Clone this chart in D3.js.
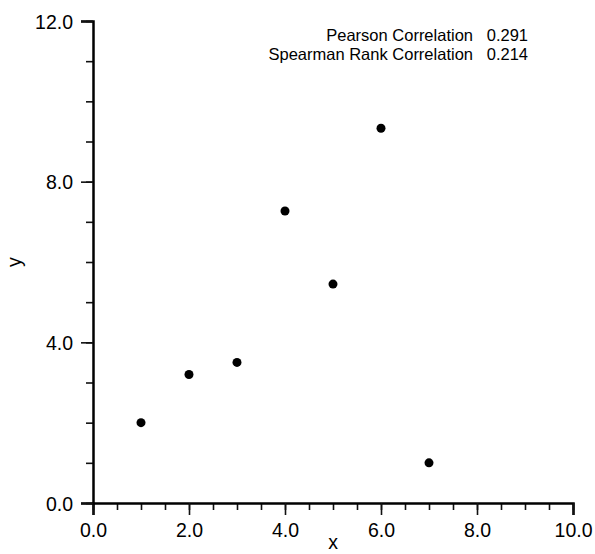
<!DOCTYPE html>
<html>
<head>
<meta charset="utf-8">
<script src="https://cdn.jsdelivr.net/npm/d3@7"></script>
<style>
  body { margin: 0; background: #fff; }
  svg { display: block; font-family: "Liberation Sans", Arial, Helvetica, sans-serif; }
</style>
</head>
<body>
<div id="chart"></div>
<script>
// Dades llegides del gràfic
const xValues = [1, 2, 3, 4, 5, 6, 7];
const yValues = [2.0, 3.2, 3.5, 7.27, 5.45, 9.33, 1.0];
const xTicks = [0, 2, 4, 6, 8, 10];
const yTicks = [0, 4, 8, 12];
const statLabels = ['Pearson Correlation', 'Spearman Rank Correlation'];
const statValues = ['0.291', '0.214'];

const width = 595, height = 554;
const margin = { top: 21, right: 22, bottom: 51, left: 93 };
const innerW = width - margin.left - margin.right;
const innerH = height - margin.top - margin.bottom;

const svg = d3.select('#chart').append('svg')
    .attr('width', width)
    .attr('height', height);

const g = svg.append('g')
    .attr('transform', `translate(${margin.left},${margin.top})`);

// Escales
const x = d3.scaleLinear().domain([0, 10]).range([0, innerW]);
const y = d3.scaleLinear().domain([0, 12]).range([innerH, 0]);

// Eix X: ticks menors cada 0.5
const xMinor = g.append('g')
    .attr('transform', `translate(0,${innerH})`)
    .call(d3.axisBottom(x).tickValues(d3.range(0, 10.01, 0.5)).tickSize(7).tickFormat(''));
xMinor.select('.domain').remove();

const xAxis = g.append('g')
    .attr('transform', `translate(0,${innerH})`)
    .call(d3.axisBottom(x).tickValues(xTicks).tickSize(12).tickPadding(8).tickFormat(d3.format('.1f')));

// Eix Y: ticks menors cada 1
const yMinor = g.append('g')
    .call(d3.axisLeft(y).tickValues(d3.range(0, 12.01, 1)).tickSize(7).tickFormat(''));
yMinor.select('.domain').remove();

const yAxis = g.append('g')
    .call(d3.axisLeft(y).tickValues(yTicks).tickSize(12).tickPadding(8).tickFormat(d3.format('.1f')));

[xAxis, yAxis].forEach(ax => {
    ax.select('.domain').attr('stroke', '#000').attr('stroke-width', 2.5);
    ax.selectAll('.tick text').attr('font-size', 19.5).attr('fill', '#000').style('font-family', 'inherit');
});
svg.selectAll('.tick line').attr('stroke', '#111').attr('stroke-width', 1.6);
yAxis.selectAll('.tick text').attr('dy', '0.36em');

// Títols dels eixos
g.append('text')
    .attr('x', innerW / 2)
    .attr('y', innerH + 46)
    .attr('text-anchor', 'middle')
    .attr('font-size', 19.5)
    .text('x');

g.append('text')
    .attr('transform', 'rotate(-90)')
    .attr('x', -innerH / 2)
    .attr('y', -72)
    .attr('text-anchor', 'middle')
    .attr('font-size', 19.5)
    .text('y');

// Punts
const points = xValues.map((v, i) => ({ x: v, y: yValues[i] }));
g.selectAll('circle')
    .data(points)
    .enter()
    .append('circle')
    .attr('cx', d => x(d.x))
    .attr('cy', d => y(d.y))
    .attr('r', 4.5)
    .attr('fill', '#000');

// Estadístiques
const stats = g.append('g');
statLabels.forEach((lab, i) => {
    const row = stats.append('text')
        .attr('y', 20 + i * 19)
        .attr('font-size', 16.5)
        .attr('fill', '#000');
    row.append('tspan').attr('x', 380).attr('text-anchor', 'end').text(lab);
    row.append('tspan').attr('x', 435).attr('text-anchor', 'end').text(statValues[i]);
});
</script>
</body>
</html>
